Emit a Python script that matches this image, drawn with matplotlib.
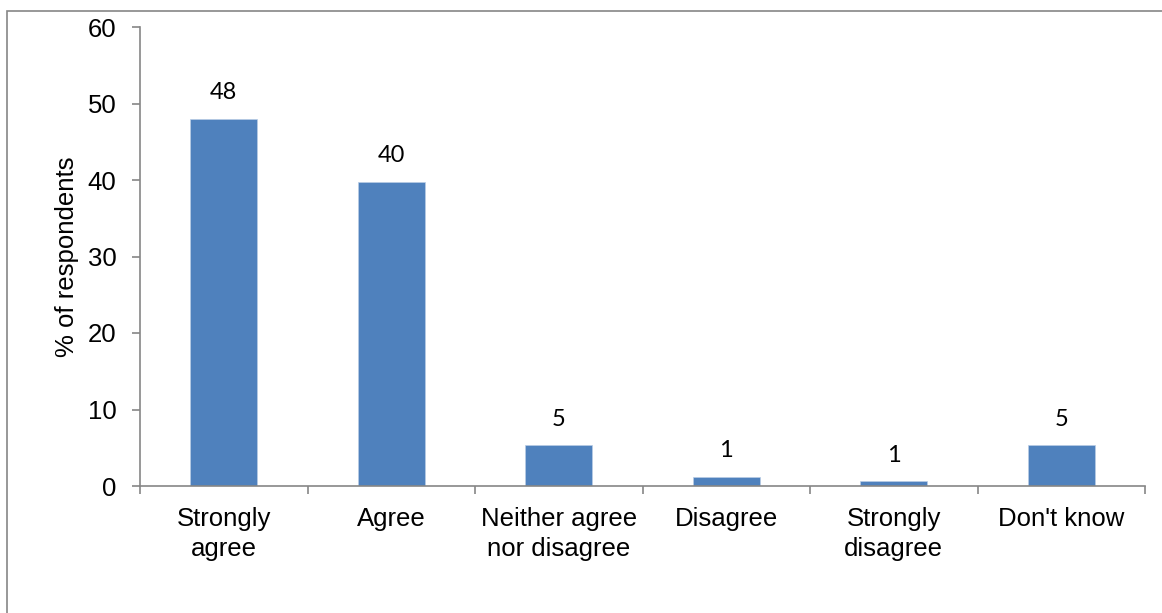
import matplotlib.pyplot as plt
from matplotlib.patches import Rectangle

# data
categories = ["Strongly\nagree", "Agree", "Neither agree\nnor disagree",
              "Disagree", "Strongly\ndisagree", "Don't know"]
values = [48.0, 39.8, 5.3, 1.2, 0.6, 5.3]
value_labels = ["48", "40", "5", "1", "1", "5"]

BAR_COLOR = "#4F81BD"
AXIS_GREY = "#868686"

plt.rcParams["font.family"] = ["Liberation Sans", "DejaVu Sans"]

fig = plt.figure(figsize=(11.62, 6.13), dpi=100)
ax = fig.add_axes([140 / 1162, 1 - 486 / 613, 1005 / 1162, (486 - 27) / 613])

# outer chart frame (runs off the right and bottom of the picture)
fig.patches.append(Rectangle((7 / 1162, -0.1), 1.2, 0.1 + (613 - 11) / 613,
                             transform=fig.transFigure, fill=False,
                             edgecolor=AXIS_GREY, linewidth=1.2))

x = list(range(len(categories)))
ax.bar(x, values, width=0.4, color=BAR_COLOR, edgecolor="#B9CDE5", linewidth=0.5)

for xi, v, lab in zip(x, values, value_labels):
    ax.annotate(lab, (xi, v), xytext=(0, 26), textcoords="offset pixels",
                ha="center", va="center", fontsize=17, family=["Lato", "DejaVu Sans"])

ax.set_xlim(-0.5, len(categories) - 0.5)
ax.set_ylim(0, 60)
ax.set_yticks(range(0, 61, 10))

# boundary ticks as major, category labels on minor ticks
ax.set_xticks([i - 0.5 for i in range(len(categories) + 1)])
ax.set_xticklabels([])
ax.set_xticks(x, minor=True)
ax.set_xticklabels(categories, minor=True, linespacing=1.35)
ax.tick_params(axis="x", which="major", length=6, width=1.2, color=AXIS_GREY, direction="out")
ax.tick_params(axis="x", which="minor", length=0, pad=15, labelsize=18.5)
ax.tick_params(axis="y", length=6, width=1.2, color=AXIS_GREY, pad=11, labelsize=18.5)

ax.set_ylabel("% of respondents", fontsize=18.5, labelpad=6)

for side in ["top", "right"]:
    ax.spines[side].set_visible(False)
for side in ["left", "bottom"]:
    ax.spines[side].set_color(AXIS_GREY)
    ax.spines[side].set_linewidth(1.2)

fig.savefig("out.png", dpi=100)
